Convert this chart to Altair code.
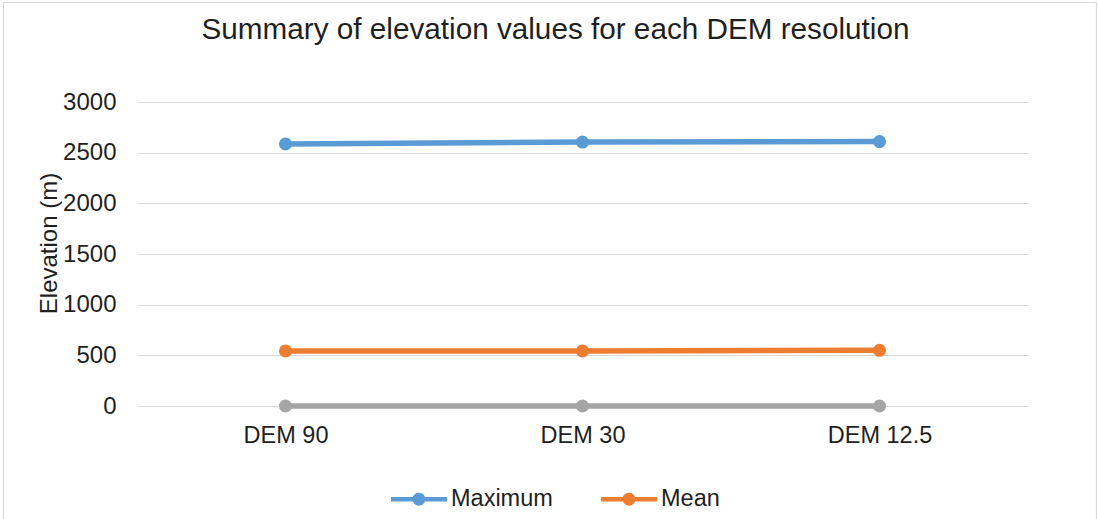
import altair as alt
import pandas as pd

# Elevation summary per DEM resolution (metres)
categories = ["DEM 90", "DEM 30", "DEM 12.5"]
maximum = [2586, 2605, 2609]
mean = [543, 543, 550]
minimum = [0, 0, 0]

series_names = ["Maximum", "Mean"]
series_colors = ["#5B9BD5", "#ED7D31"]
min_color = "#A5A5A5"

rows = []
for name, vals in (("Maximum", maximum), ("Mean", mean)):
    for cat, v in zip(categories, vals):
        rows.append({"resolution": cat, "series": name, "elevation": v})
df = pd.DataFrame(rows)
df_min = pd.DataFrame({"resolution": categories, "elevation": minimum})

FONT = "Liberation Sans"
TEXT = "#1f1f1f"

x_enc = alt.X(
    "resolution:N",
    sort=categories,
    scale=alt.Scale(type="point", padding=0.5),
    axis=alt.Axis(
        title=None, labelAngle=0, ticks=False, domain=False, grid=False,
        labelFontSize=23.5, labelPadding=17, labelColor=TEXT, labelFont=FONT,
    ),
)
y_enc = alt.Y(
    "elevation:Q",
    scale=alt.Scale(domain=[0, 3000], nice=False),
    axis=alt.Axis(
        title="Elevation (m)", values=[0, 500, 1000, 1500, 2000, 2500, 3000],
        format="d",
        ticks=False, domain=False, grid=True, gridColor="#d9d9d9", gridWidth=1.2,
        labelFontSize=24, labelPadding=21, labelColor=TEXT, labelFont=FONT,
        titleFontSize=24, titleFont=FONT, titleColor=TEXT, titleFontWeight="normal",
        titleX=-88, titleY=141, titleBaseline="middle",
    ),
)
color_scale = alt.Scale(domain=series_names, range=series_colors)

# line-with-dot legend glyph in the [-1, 1] unit box
legend_glyph = (
    "M-1,-0.08 L1,-0.08 L1,0.08 L-1,0.08 Z "
    "M-0.23,0 A0.23,0.23 0 1,1 0.23,0 A0.23,0.23 0 1,1 -0.23,0 Z"
)
legend = alt.Legend(
    title=None, orient="none", direction="horizontal",
    legendX=254, legendY=369,
    symbolType=legend_glyph, symbolSize=3136, symbolStrokeWidth=0,
    labelFontSize=23.5, labelFont=FONT, labelColor=TEXT, labelOffset=4,
    columnPadding=48,
)
color_enc = alt.Color("series:N", scale=color_scale, legend=legend)

lines = alt.Chart(df).mark_line(strokeWidth=5.5, strokeCap="round").encode(
    x=x_enc, y=y_enc, color=color_enc,
)
points = alt.Chart(df).mark_point(filled=True, size=170, opacity=1, shape="circle").encode(
    x=x_enc, y=y_enc, color=color_enc,
)
min_line = alt.Chart(df_min).mark_line(strokeWidth=5.5, strokeCap="round", color=min_color).encode(
    x=x_enc, y=y_enc
)
min_points = alt.Chart(df_min).mark_point(filled=True, size=170, opacity=1, shape="circle", color=min_color).encode(
    x=x_enc, y=y_enc
)

# light outer frame around the whole chart
frame = alt.Chart(pd.DataFrame({"f": [0]})).mark_rect(
    fill=None, stroke="#d9d9d9", strokeWidth=1.2
).encode(
    x=alt.value(-133.5), x2=alt.value(959.5), y=alt.value(-99.5), y2=alt.value(430)
)

chart = alt.layer(frame, min_line, min_points, lines, points).properties(
    width=891, height=304,
    title=alt.TitleParams(
        "Summary of elevation values for each DEM resolution",
        fontSize=29.7, font=FONT, color=TEXT, fontWeight="normal",
        anchor="middle", dx=-27, offset=-67, baseline="alphabetic",
    ),
    autosize=alt.AutoSizeParams(type="none"),
    padding={"left": 137, "top": 102, "right": 70, "bottom": 113},
).configure(background="white").configure_view(stroke=None)

chart.save("out.html", embed_options={"renderer": "svg", "actions": False})
